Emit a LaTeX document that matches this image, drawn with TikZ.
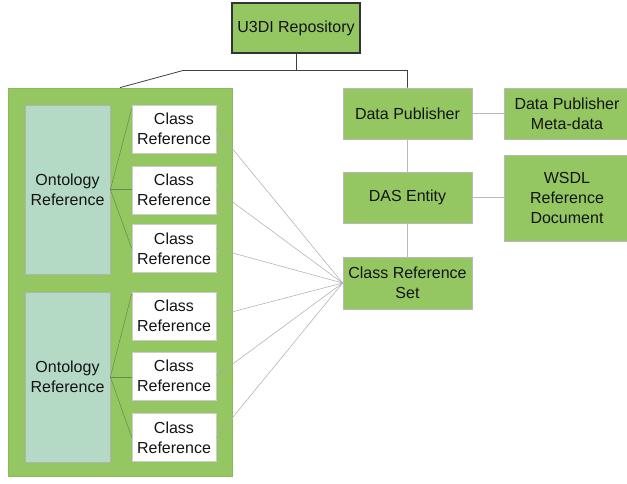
\documentclass[tikz,border=0pt]{standalone}
\usepackage{fontspec}
\setmainfont{Liberation Sans}
\usetikzlibrary{calc}
\definecolor{boxgreen}{RGB}{148,198,98}
\definecolor{contborder}{RGB}{136,188,88}
\definecolor{ontteal}{RGB}{180,218,198}
\definecolor{txtcol}{RGB}{20,20,20}
\definecolor{fanline}{RGB}{105,135,85}
\begin{document}
\begin{tikzpicture}[x=1pt,y=-1pt,
  lbl/.style={font=\fontsize{16}{20}\selectfont, text=txtcol, align=center, inner sep=0pt, rectangle},
  gbox/.style={lbl, draw=gray!55, fill=boxgreen, line width=0.8pt},
  rootbox/.style={lbl, draw=black!80, fill=boxgreen, line width=1.2pt},
  contbox/.style={rectangle, draw=contborder, fill=boxgreen, line width=0.8pt, inner sep=0pt},
  ontbox/.style={lbl, draw=gray!60, fill=ontteal, line width=0.8pt},
  clsbox/.style={lbl, draw=gray!40, fill=white, line width=0.6pt, minimum width=84pt, minimum height=48pt},
  treeline/.style={draw=black!75, line width=0.8pt},
  linkline/.style={draw=gray!55, line width=0.8pt},
  fan/.style={draw=fanline, line width=0.5pt},
  toset/.style={draw=gray!65, line width=0.5pt}
]
\useasboundingbox[fill=white] (0,0) rectangle (627,483);

% nodes
\node[rootbox, minimum width=128pt, minimum height=50pt] (u3di) at (296,28) {U3DI Repository};
\node[contbox, minimum width=224pt, minimum height=388pt] (cont) at (120,282) {};
\node[ontbox, minimum width=85pt, minimum height=169pt] (ont1) at (67.5,189.5) {Ontology\\Reference};
\node[ontbox, minimum width=85pt, minimum height=170pt] (ont2) at (67.5,377) {Ontology\\Reference};
\node[clsbox] (c1) at (174,129) {Class\\Reference};
\node[clsbox] (c2) at (174,190) {Class\\Reference};
\node[clsbox] (c3) at (174,248.5) {Class\\Reference};
\node[clsbox] (c4) at (174,316) {Class\\Reference};
\node[clsbox] (c5) at (174,376) {Class\\Reference};
\node[clsbox] (c6) at (174,437.5) {Class\\Reference};
\node[gbox, minimum width=129pt, minimum height=51pt] (dp) at (407.5,113.5) {Data Publisher};
\node[gbox, minimum width=126pt, minimum height=51pt] (dpm) at (567,113.5) {Data Publisher\\Meta-data};
\node[gbox, minimum width=129pt, minimum height=51pt] (das) at (407.5,197.5) {DAS Entity};
\node[gbox, minimum width=126pt, minimum height=86pt] (wsdl) at (567,198) {WSDL\\Reference\\Document};
\node[gbox, minimum width=129pt, minimum height=52pt] (crs) at (407.5,283) {Class Reference\\Set};

% tree connectors
\coordinate (jl) at (183,70.5);
\draw[treeline] (u3di.south) -- (u3di.south |- jl);
\draw[treeline] (cont.north) -- (jl) -| (dp.north);

\draw[linkline] (dp.east) -- (dpm.west);
\draw[linkline] (dp.south) -- (das.north);
\draw[linkline] (das.east) -- (das.east -| wsdl.west);
\draw[linkline] (das.south) -- (crs.north);

% ontology fans
\draw[fan] (ont1.east) -- ([yshift=-4pt]c1.north west);
\draw[fan] (ont1.east) -- (ont1.east -| c2.west);
\draw[fan] (ont1.east) -- (c3.west);
\draw[fan] (ont2.east) -- ([yshift=-2pt]c4.north west);
\draw[fan] (ont2.east) -- (ont2.east -| c5.west);
\draw[fan] (ont2.east) -- (c6.west);

% class references to set
\foreach \c in {c1,c2,c3,c4,c5,c6}
  \draw[toset] (\c.east) -- (crs.west);
\end{tikzpicture}
\end{document}
